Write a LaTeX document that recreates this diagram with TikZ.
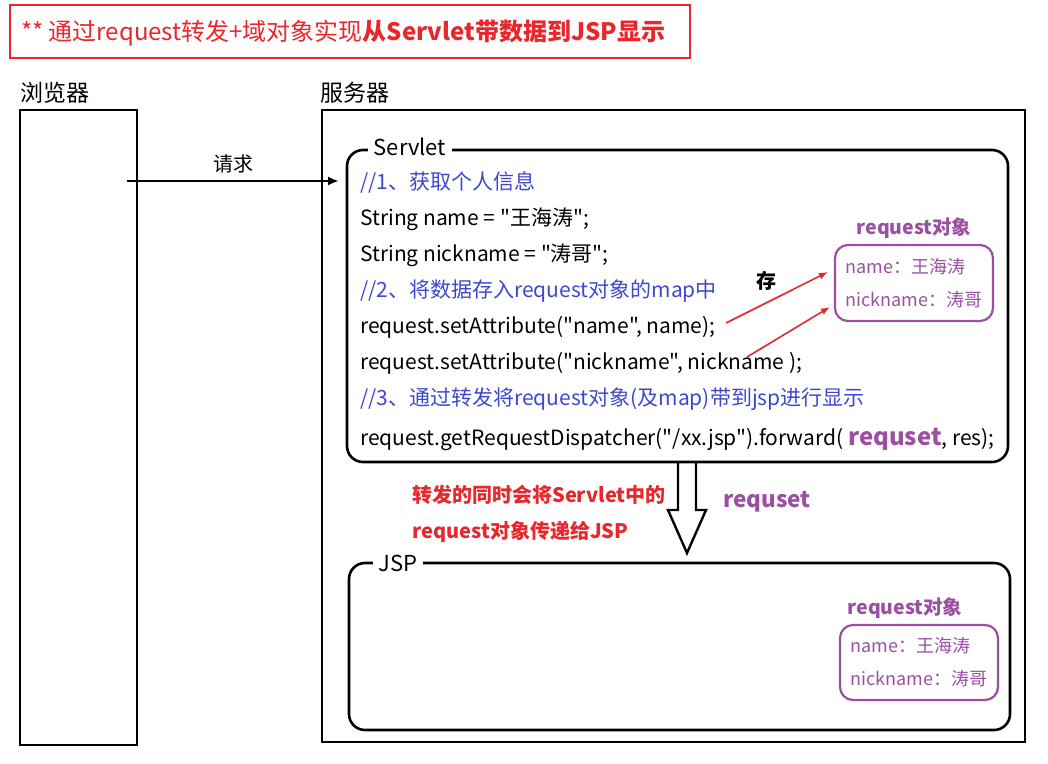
\documentclass[tikz,border=0pt]{standalone}
\usepackage{fontspec}
\setmainfont{Noto Sans CJK SC}[Ligatures=TeXOff]
\usetikzlibrary{arrows.meta,positioning,calc}
\definecolor{tred}{HTML}{E8262B}
\definecolor{codeblue}{HTML}{3F48CC}
\definecolor{objpurple}{HTML}{9B4FA3}

\begin{document}
\begin{tikzpicture}[x=1pt,y=-1pt,
    node distance=4pt,
    frame/.style={draw,line width=2.6pt,minimum width=#1},
    part/.style={draw,line width=2.6pt,rounded corners=16pt},
    partname/.style={fill=white,inner xsep=6pt,inner ysep=0pt,font=\fontsize{22}{24}\selectfont},
    code/.style={anchor=base west,inner sep=0pt,font=\fontsize{21}{22}\selectfont},
    note/.style={code,text=codeblue},
    objname/.style={text=objpurple,font=\fontsize{19.5}{22}\selectfont\bfseries},
    objbox/.style={draw=objpurple,line width=2.2pt,rounded corners=13pt,text=objpurple,align=left,
      font=\fontsize{18}{33}\selectfont,inner xsep=3pt,minimum height=76pt},
    hint/.style={text=tred,font=\fontsize{20}{36}\selectfont\bfseries,align=left}
  ]
  \useasboundingbox (0,0) rectangle (1048,763);

  % heading
  \node[draw=tred,line width=2.6pt,minimum width=680pt,minimum height=53pt] (heading) at (350,31.5) {};
  \node[text=tred,font=\fontsize{24}{26}\selectfont] (headtext) at (343,33)
    {** 通过request转发+域对象实现\textbf{从Servlet带数据到JSP显示}};

  % browser and server
  \node[frame=117pt,minimum height=635pt] (browser) at (78.5,427.5) {};
  \node[frame=703pt,minimum height=632pt] (server) at (673.5,426) {};
  \node[font=\fontsize{23}{26}\selectfont,anchor=south west,inner sep=0pt] (browsername) at (20,104) {浏览器};
  \node[font=\fontsize{23}{26}\selectfont,anchor=south west,inner sep=0pt] (servername) at (320,104) {服务器};

  % servlet and jsp parts
  \node[part,minimum width=661pt,minimum height=312pt] (servlet) at (677.5,306) {};
  \node[partname] (servletname) at (410,147) {Servlet};
  \node[part,minimum width=661pt,minimum height=167pt] (jsp) at (679.5,646.5) {};
  \node[partname] (jspname) at (398,563) {JSP};

  % request
  \coordinate (reqstart) at (127,181);
  \coordinate (reqend) at (339,181);
  \draw[line width=2.2pt,-{Latex[length=11pt,width=9pt]}] (reqstart) -- node[above=3pt,font=\fontsize{20}{22}\selectfont] (reqname) {请求} (reqend);

  % servlet code
  \node[note] (l1) at (360,189) {//1、获取个人信息};
  \node[code] (l2) at (360,225) {String name = "王海涛";};
  \node[code] (l3) at (360,261) {String nickname = "涛哥";};
  \node[note] (l4) at (360,297) {//2、将数据存入request对象的map中};
  \node[code] (l5) at (360,333) {request.setAttribute("name", name);};
  \node[code] (l6) at (360,369) {request.setAttribute("nickname", nickname );};
  \node[note] (l7) at (360,405) {//3、通过转发将request对象(及map)带到jsp进行显示};
  \node[code] (l8) at (360,445) {request.getRequestDispatcher("/xx.jsp").forward( {\fontsize{24}{24}\selectfont\bfseries\color{objpurple}requset}, res);};

  % request object in servlet
  \node[objbox,minimum width=158pt] (obj1) at (914,283) {name：王海涛\\nickname：涛哥};
  \node[objname,above=2pt of obj1] (obj1name) {request对象};
  \node[font=\fontsize{20}{22}\selectfont\bfseries] (store) at (766,281) {存};
  \coordinate (s1) at (726,323);
  \coordinate (s2) at (747,357);
  \draw[tred,line width=1.6pt,-{Latex[length=9pt,width=7pt]}] (s1) -- ($(obj1.west)+(-6,-11)$);
  \draw[tred,line width=1.6pt,-{Latex[length=9pt,width=7pt]}] (s2) -- ($(obj1.west)+(-4,24)$);

  % forward
  \coordinate (fwd) at (687,462);
  \draw[line width=2.4pt,line join=miter] ($(fwd)+(-9,0)$) -- ++(0,48) -- ++(-10,0) -- (687,553)
    -- ($(fwd)+(19,48)$) -- ++(-10,0) -- ($(fwd)+(9,0)$);
  \node[hint] (fwdnote) at (539,514) {转发的同时会将Servlet中的\\request对象传递给JSP};
  \node[text=objpurple,font=\fontsize{22.5}{24}\selectfont\bfseries] (fwdname) at (767,502) {requset};

  % request object in jsp
  \node[objbox,minimum width=158pt,minimum height=75pt] (obj2) at (919,662.5) {name：王海涛\\nickname：涛哥};
  \node[objname,above=2pt of obj2,xshift=-14pt] (obj2name) {request对象};
\end{tikzpicture}
\end{document}
